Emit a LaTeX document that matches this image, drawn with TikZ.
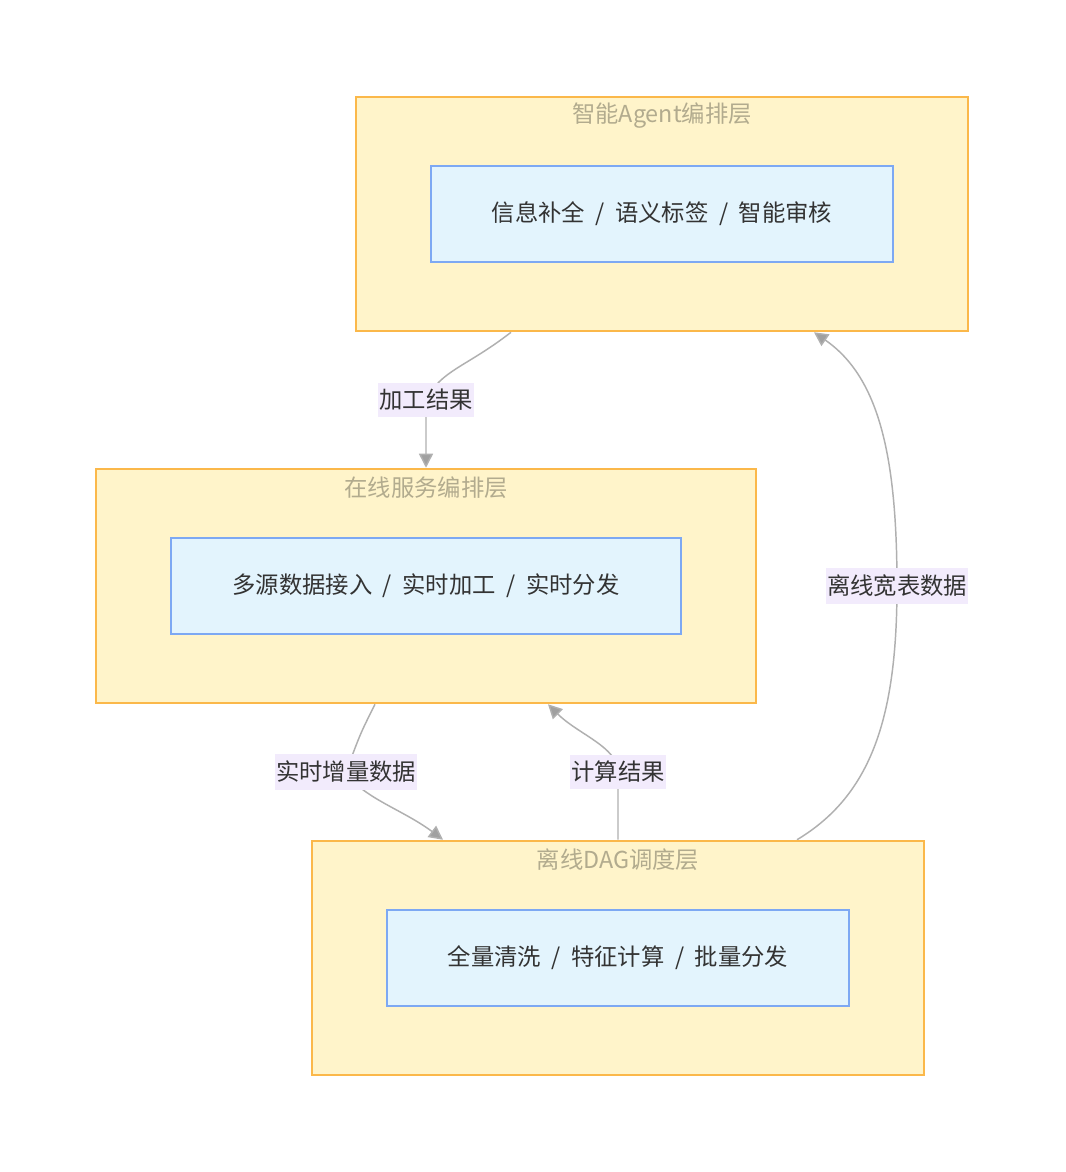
\documentclass[tikz,border=0pt]{standalone}
\usepackage{fontspec}
\setmainfont{Noto Sans CJK SC}
\usetikzlibrary{arrows.meta,backgrounds,positioning}
\definecolor{layerfill}{HTML}{FFF4CA}
\definecolor{layerline}{HTML}{FBB84A}
\definecolor{taskfill}{HTML}{E3F4FD}
\definecolor{taskline}{HTML}{7DA8F3}
\definecolor{titlegray}{HTML}{B2AB8E}
\definecolor{labfill}{HTML}{F2EBFC}
\definecolor{edgegray}{HTML}{B0B0B0}
\definecolor{tipgray}{HTML}{A0A0A0}
\definecolor{textdark}{HTML}{333333}
\newcommand{\sep}{\hspace{0.45em}/\hspace{0.45em}}
\tikzset{
  layer/.style={draw=layerline,fill=layerfill,line width=1.4pt,minimum height=176pt,inner sep=0pt},
  task/.style={draw=taskline,fill=taskfill,line width=1.4pt,minimum height=72pt,inner sep=0pt,text=textdark},
  layertitle/.style={text=titlegray},
  lab/.style={fill=labfill,text=textdark,inner xsep=1pt,inner ysep=5pt},
  edge/.style={draw=edgegray,line width=1.1pt,-{Triangle[length=10.5pt,width=10.5pt,fill=tipgray]}}
}
\begin{document}
\begin{tikzpicture}[x=0.75pt,y=-0.75pt,font=\fontsize{17.5pt}{21pt}\selectfont]
\useasboundingbox(0,0) rectangle (1066,1172);
% layers
\node[layer,minimum width=459pt](agent) at (662,214) {};
\node[layer,minimum width=495pt](online) at (426,586) {};
\node[layer,minimum width=459pt](offline) at (618,958) {};
\node[layertitle](agenttitle) at ([yshift=-15pt]agent.north) {智能Agent编排层};
\node[layertitle](onlinetitle) at ([yshift=-15pt]online.north) {在线服务编排层};
\node[layertitle](offlinetitle) at ([yshift=-15pt]offline.north) {离线DAG调度层};
\node[task,minimum width=346.5pt](agenttask) at (agent) {信息补全\sep 语义标签\sep 智能审核};
\node[task,minimum width=382.5pt](onlinetask) at (online) {多源数据接入\sep 实时加工\sep 实时分发};
\node[task,minimum width=346.5pt](offlinetask) at (offline) {全量清洗\sep 特征计算\sep 批量分发};
% edge labels
\node[lab](res) at (426,400) {加工结果};
\node[lab](incr) at (346,772) {实时增量数据};
\node[lab](calc) at (618,772) {计算结果};
\node[lab](wide) at (897,586) {离线宽表数据};
\begin{pgfonlayer}{background}
\fill[white](0,0) rectangle (1066,1172);
\draw[edge]([xshift=-113.25pt]agent.south) .. controls +(-45,35) and +(15,-30) .. (res.center)
  .. controls +(0,30) and +(0,-25) .. (online.north);
\draw[edge]([xshift=-38.25pt]online.south) .. controls +(-15,30) and +(15,-40) .. (incr.center)
  .. controls +(15,25) and +(-40,-30) .. ([xshift=-131.25pt]offline.north);
\draw[edge](offline.north) -- (calc.center)
  .. controls +(0,-25) and +(30,30) .. ([xshift=91.5pt]online.south);
\draw[edge]([xshift=134.25pt]offline.north) .. controls +(75,-45) and +(0,130) .. (wide.center)
  .. controls +(0,-130) and +(65,45) .. ([xshift=114pt]agent.south);
\end{pgfonlayer}
\end{tikzpicture}
\end{document}
